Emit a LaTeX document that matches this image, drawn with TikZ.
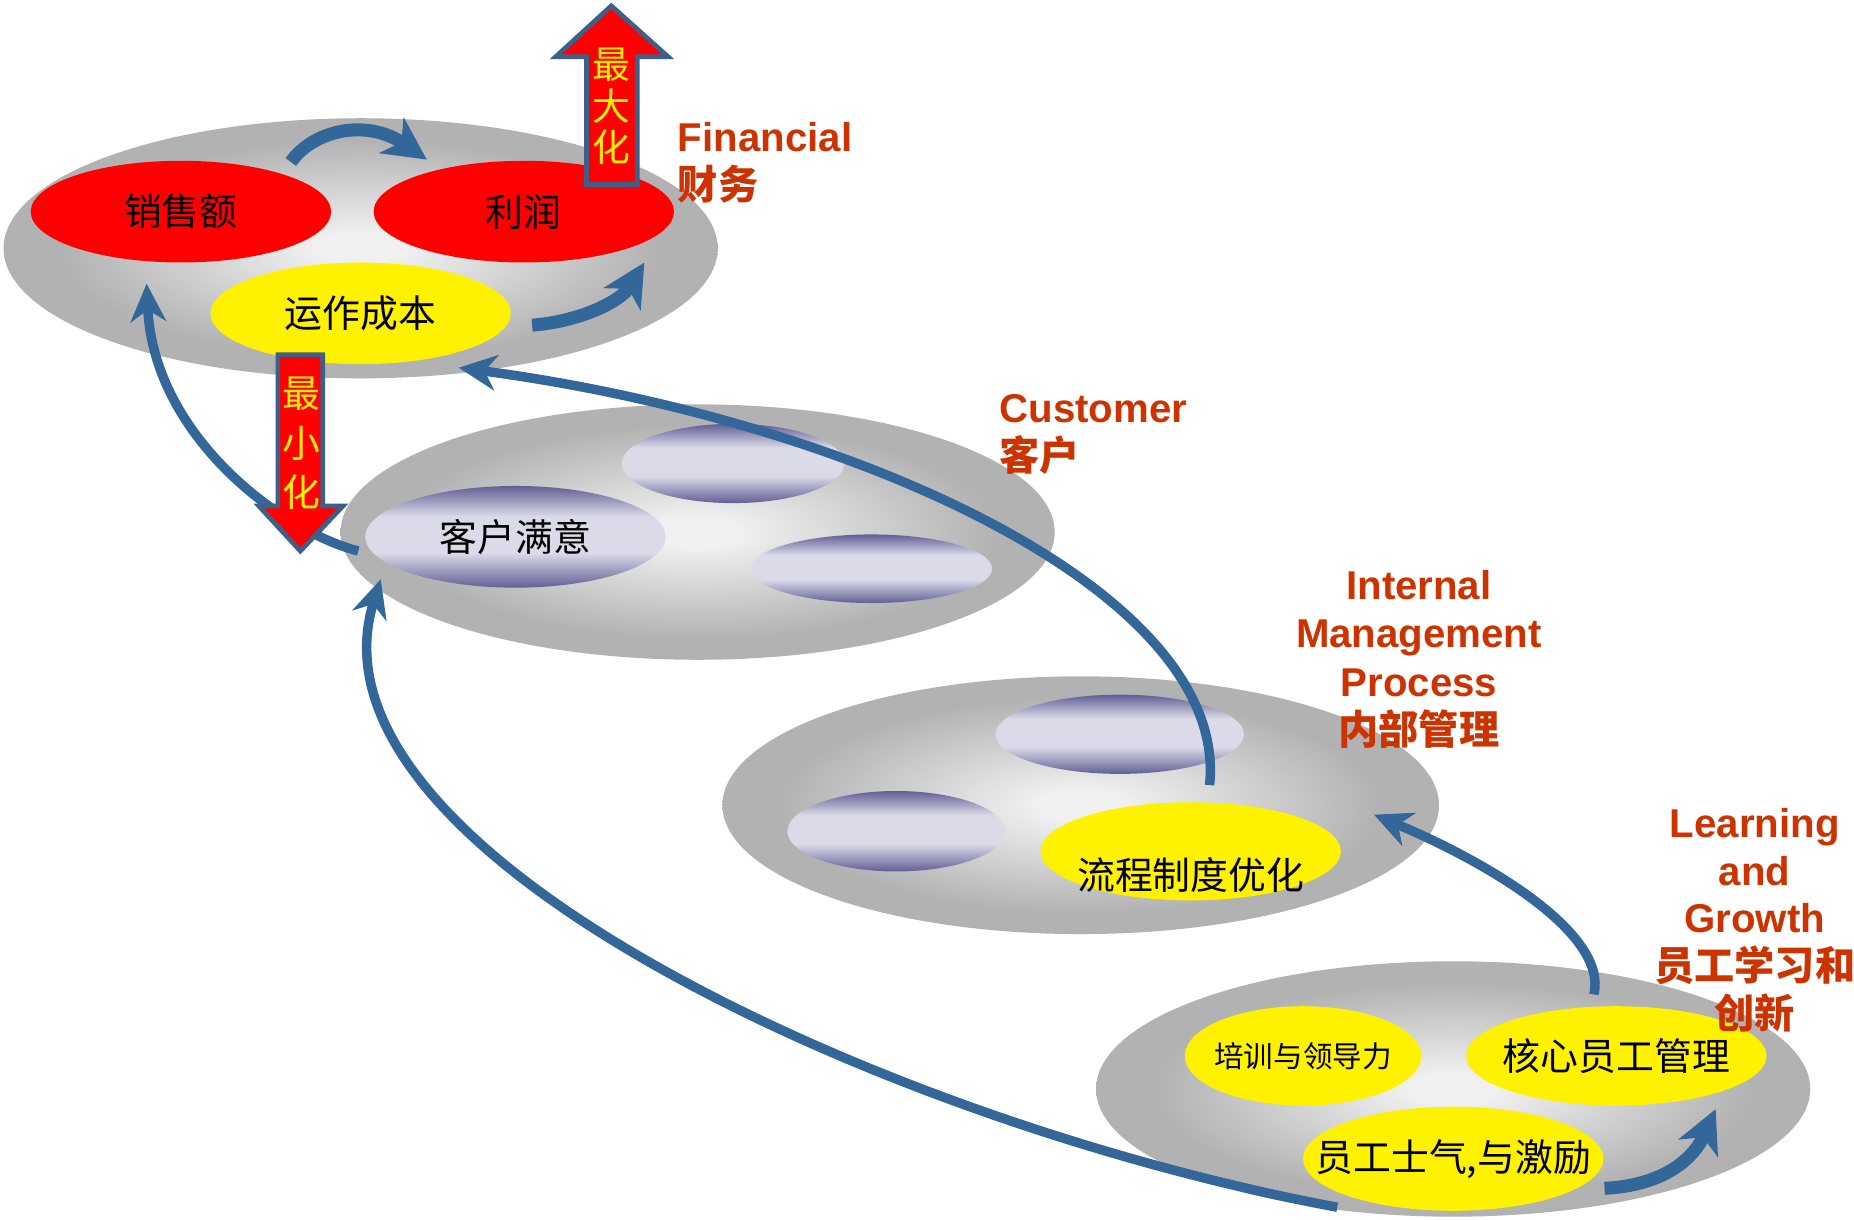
\documentclass[tikz,border=0pt]{standalone}
\usepackage{fontspec}
\setmainfont{Liberation Sans}
\newfontfamily\cjk{Noto Sans CJK SC}
\usetikzlibrary{shapes.geometric,arrows.meta}
\definecolor{gc1}{RGB}{240,240,240}
\definecolor{gc2}{RGB}{178,178,178}
\definecolor{lavd}{RGB}{98,95,148}
\definecolor{lavl}{RGB}{218,218,232}
\definecolor{bsblue}{RGB}{51,102,153}
\definecolor{lblred}{RGB}{204,51,0}
\definecolor{arrborder}{RGB}{62,95,138}
\pgfdeclareradialshading{grayball}{\pgfpoint{0bp}{0bp}}{color(0bp)=(gc1); color(3bp)=(gc1); color(21bp)=(gc2); color(50bp)=(gc2)}
\pgfdeclareverticalshading{lavsh}{100bp}{color(0bp)=(lavd); color(25bp)=(lavd); color(42bp)=(lavl); color(60bp)=(lavl); color(75bp)=(lavd); color(100bp)=(lavd)}
\tikzset{
  plate/.style={ellipse, inner sep=0pt, shading=grayball},
  oval/.style={ellipse, inner sep=0pt, minimum width=127pt, minimum height=43pt},
  ovtxt/.style={inner sep=0pt, font=\cjk\fontsize{16}{19}\selectfont},
  redoval/.style={oval, fill=red},
  yeloval/.style={oval, fill=yellow},
  lavoval/.style={oval, shading=lavsh},
  lbl/.style={text=lblred, font=\bfseries\fontsize{17}{20.25}\selectfont, inner sep=0pt},
  bluelink/.style={draw=bsblue, line width=4pt, -{Stealth[length=16pt,width=15pt,inset=5pt]}},
  minicurve/.style={draw=bsblue, line width=5.5pt, -{Stealth[length=18pt,width=18pt,inset=5pt]}},
  bigarrow/.style={fill=red, draw=arrborder, line width=2pt},
  arrtxt/.style={text=yellow, inner sep=0pt, align=center},
}
\begin{document}
\begin{tikzpicture}[x=0.5pt,y=-0.5pt]
\useasboundingbox[fill=white] (0,0) rectangle (1568,1031);

% Financial
\node[plate, minimum width=302pt, minimum height=110pt] (fin) at (305,210) {};
\node[redoval, label={[ovtxt]center:{销售额}}] (sales) at (153,179) {};
\node[redoval, label={[ovtxt]center:{利润}}] (profit) at (443,179) {};
\node[yeloval, label={[ovtxt]center:{运作成本}}] (cost) at (305,265) {};

% Customer
\node[plate, minimum width=302pt, minimum height=108pt] (cust) at (590,450) {};
\node[lavoval, minimum width=94pt, minimum height=33.5pt] (cu1) at (620,392) {};
\node[lavoval, minimum width=102pt, minimum height=29pt] (cu2) at (737,481) {};
\node[lavoval, label={[ovtxt]center:{客户满意}}] (sat) at (436,454) {};

% Internal
\node[plate, minimum width=303pt, minimum height=109pt] (intl) at (914,681) {};
\node[lavoval, minimum width=105pt, minimum height=33.5pt] (ip1) at (947,621) {};
\node[lavoval, minimum width=92pt, minimum height=34pt] (ip2) at (758,703) {};
\node[yeloval, minimum height=41.5pt] (proc) at (1007,720) {};
\node[ovtxt] (proct) at (1007,740) {流程制度优化};

% Learning
\node[plate, minimum width=302pt, minimum height=108pt] (lrn) at (1229,921) {};
\node[yeloval, minimum width=100pt, minimum height=42pt, label={[ovtxt, font=\cjk\fontsize{12.5}{15}\selectfont]center:{培训与领导力}}] (train) at (1102,893) {};
\node[yeloval, minimum height=42pt, label={[ovtxt]center:{核心员工管理}}] (core) at (1367,893) {};
\node[yeloval, minimum height=44pt, label={[ovtxt]center:{员工士气,与激励}}] (mor) at (1229,980) {};

% connector end points
\coordinate (c1a) at (303,466);  \coordinate (c1b) at (124,240);
\coordinate (c2a) at (1023,664); \coordinate (c2b) at (388,311);
\coordinate (c3a) at (1131,1021);\coordinate (c3b) at (322,490);
\coordinate (c4a) at (1348,841); \coordinate (c4b) at (1162,689);
\coordinate (c5a) at (1357,1005);\coordinate (c5b) at (1451,938);
\coordinate (c6a) at (246,137);  \coordinate (c6b) at (361,135);
\coordinate (c7a) at (450,275);  \coordinate (c7b) at (545,222);

\draw[bluelink] (c1a) .. controls (240,450) and (130,370) .. (c1b);
\draw[bluelink] (c2a) .. controls (1040,500) and (720,355) .. (c2b);
\draw[bluelink] (c3a) .. controls (750,950) and (250,720) .. (c3b);
\draw[bluelink] (c4a) .. controls (1360,790) and (1260,730) .. (c4b);
\draw[minicurve] (c5a) .. controls (1400,1003) and (1430,985) .. (c5b);
\draw[minicurve] (c6a) .. controls (265,110) and (310,100) .. (c6b);
\draw[minicurve] (c7a) .. controls (490,272) and (525,255) .. (c7b);

% big arrows
\path[bigarrow] (496,156) -- (496,48) -- (470,48) -- (517,5) -- (565,48) -- (539,48) -- (539,156) -- cycle;
\node[arrtxt, font=\cjk\fontsize{16}{17.5}\selectfont] (maxt) at (517.5,90) {最\\大\\化};
\path[bigarrow] (235,300) -- (235,428) -- (219,428) -- (254,466) -- (290,428) -- (273,428) -- (273,300) -- cycle;
\node[arrtxt, font=\cjk\fontsize{16}{21}\selectfont] (mint) at (255,375) {最\\小\\化};

% labels
\node[lbl, align=left, anchor=north west] (finl) at (573,103) {Financial\\{\cjk 财务}};
\node[lbl, align=left, anchor=north west] (custl) at (845,333) {Customer\\{\cjk 客户}};
\node[lbl, align=center, anchor=north, font=\bfseries\fontsize{17}{20.5}\selectfont] (intll) at (1200,482) {Internal\\Management\\Process\\{\cjk 内部管理}};
\node[lbl, align=center, anchor=north] (lrnl) at (1484,683) {Learning\\and\\Growth\\{\cjk 员工学习和}\\{\cjk 创新}};
\end{tikzpicture}
\end{document}
